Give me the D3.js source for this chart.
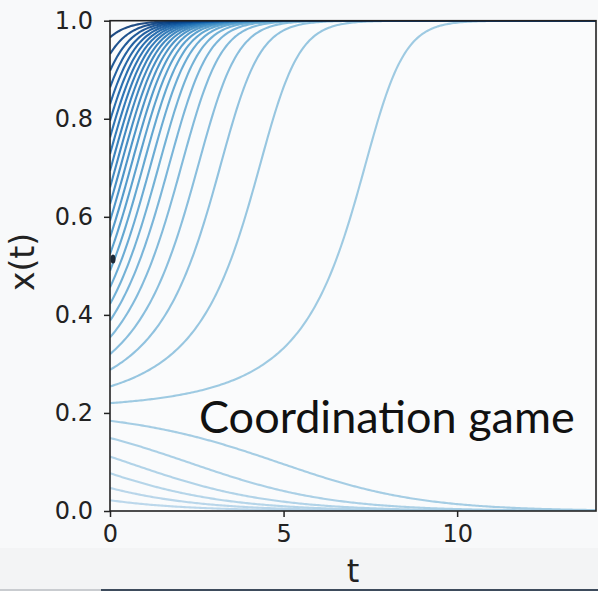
<!DOCTYPE html>
<html>
<head>
<meta charset="utf-8">
<script src="https://cdn.jsdelivr.net/npm/d3@7"></script>
<style>
  html, body { margin: 0; padding: 0; background: #f8f9fa; }
  svg { display: block; }
</style>
</head>
<body>
<svg id="chart" width="598" height="591"></svg>
<script>
// ---- data ----
const initialShares = [0.022, 0.047, 0.077, 0.111, 0.149, 0.184, 0.220, 0.254, 0.288, 0.320,
  0.354, 0.388, 0.422, 0.456, 0.490, 0.524, 0.558, 0.592, 0.626, 0.660,
  0.694, 0.728, 0.762, 0.796, 0.830, 0.864, 0.898, 0.932, 0.966];
const selectionStrength = 2.48;   // replicator-dynamics rate
const mixedEquilibrium = 0.208;   // unstable interior rest point
const tDomain = [0, 14];
const tTicks = [0, 5, 10];
const xTicks = [0.0, 0.2, 0.4, 0.6, 0.8, 1.0];
const xTickLabels = ["0.0", "0.2", "0.4", "0.6", "0.8", "1.0"];
const xLabel = "x(t)";
const tLabel = "t";
const annotation = "Coordination game";

// ---- replicator dynamics trajectories ----
function deriv(x) { return selectionStrength * x * (1 - x) * (x - mixedEquilibrium); }
function trajectory(x0) {
  const pts = [];
  const dt = 0.01, every = 5;
  let x = x0, t = 0, i = 0;
  pts.push([t, x]);
  while (t < tDomain[1] - 1e-9) {
    const k1 = deriv(x), k2 = deriv(x + dt / 2 * k1), k3 = deriv(x + dt / 2 * k2), k4 = deriv(x + dt * k3);
    x += dt / 6 * (k1 + 2 * k2 + 2 * k3 + k4);
    t += dt; i++;
    if (i % every === 0) pts.push([t, x]);
  }
  return pts;
}

const svg = d3.select("#chart");
const L = 110, R = 596, T = 20.7, B = 511;

// lower backdrop tint and bottom strip
svg.append("rect").attr("x", 0).attr("y", 548).attr("width", 598).attr("height", 43).attr("fill", "#f3f4f5");
svg.append("rect").attr("x", 0).attr("y", 589).attr("width", 101).attr("height", 2).attr("fill", "#c9ccd0");
svg.append("rect").attr("x", 101).attr("y", 589).attr("width", 497).attr("height", 2).attr("fill", "#3d4b5c");

const xs = d3.scaleLinear().domain(tDomain).range([L, R]);
const ys = d3.scaleLinear().domain([0, 1]).range([B, T]);

svg.append("rect").attr("x", L).attr("y", T).attr("width", R - L).attr("height", B - T).attr("fill", "#fafbfc");

svg.append("clipPath").attr("id", "clip").append("rect")
  .attr("x", L).attr("y", T).attr("width", R - L).attr("height", B - T);

const color = v => d3.interpolateBlues(0.3 + 0.7 * Math.pow(v, 1.3));
const line = d3.line().x(d => xs(d[0])).y(d => ys(d[1])).curve(d3.curveLinear);

svg.append("g").attr("clip-path", "url(#clip)")
  .selectAll("path").data(initialShares).join("path")
  .attr("d", d => line(trajectory(d)))
  .attr("fill", "none")
  .attr("stroke", d => color(d))
  .attr("stroke-opacity", 0.9)
  .attr("stroke-width", 2.1);

// axes
const axisColor = "#222";
const xAxis = svg.append("g").attr("transform", `translate(0,${B})`)
  .call(d3.axisBottom(xs).tickValues(tTicks).tickFormat(d3.format("d")).tickSize(6).tickPadding(8));
const yAxis = svg.append("g").attr("transform", `translate(${L},0)`)
  .call(d3.axisLeft(ys).tickValues(xTicks).tickFormat((d, i) => xTickLabels[i]).tickSize(6).tickPadding(11));
[xAxis, yAxis].forEach(g => {
  g.select(".domain").remove();
  g.selectAll(".tick line").attr("stroke", axisColor).attr("stroke-width", 1.5);
  g.selectAll(".tick text").attr("fill", "#222").style("font-family", "DejaVu Sans").style("font-size", "24px");
});

// spines
svg.append("rect").attr("x", L).attr("y", T).attr("width", R - L).attr("height", B - T)
  .attr("fill", "none").attr("stroke", axisColor).attr("stroke-width", 1.6);

// labels
svg.append("text").attr("x", xs(7)).attr("y", 582).attr("text-anchor", "middle")
  .style("font-family", "DejaVu Sans").style("font-size", "32px").attr("fill", "#222").text(tLabel);
svg.append("text").attr("transform", `translate(34,262) rotate(-90)`).attr("text-anchor", "middle")
  .style("font-family", "DejaVu Sans").style("font-size", "33px").attr("fill", "#222").text(xLabel);

svg.append("text").attr("x", 199).attr("y", 433)
  .style("font-family", "Lato").style("font-size", "45px").attr("fill", "#111").text(annotation);

// small dark mark near the axis
svg.append("ellipse").attr("cx", 113).attr("cy", 259).attr("rx", 2.5).attr("ry", 4.5).attr("fill", "#1c2836");
</script>
</body>
</html>
